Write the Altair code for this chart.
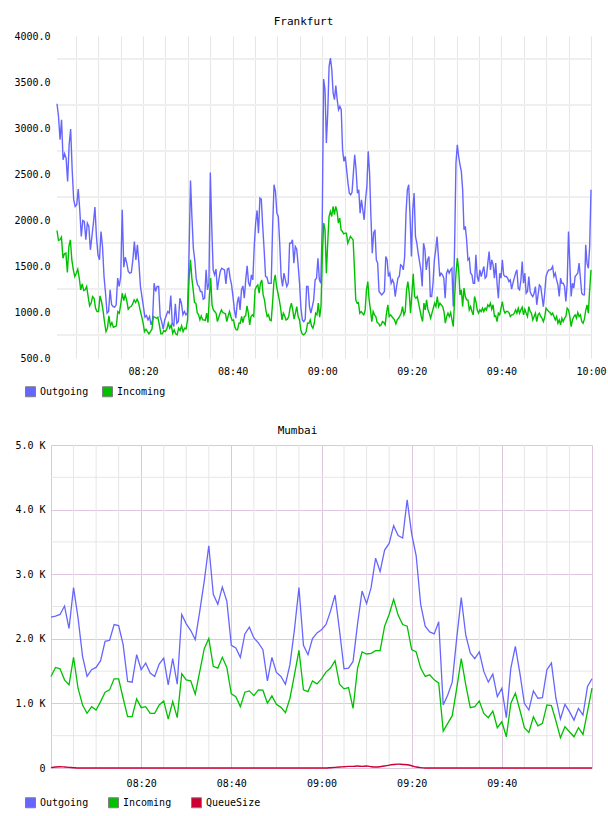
import altair as alt
import pandas as pd

FONT = "DejaVu Sans Mono"
COLORS = {"Outgoing": "#6666ff", "Incoming": "#00c000", "QueueSize": "#cc0033"}
FR_SERIES = ["Outgoing", "Incoming"]
MUM_SERIES = ["Outgoing", "Incoming", "QueueSize"]

# ---------------- Frankfurt (20 s samples, read in four 30-minute segments) ----------------
# segment start times in minutes after 08:00 (last entry = end of data)
FR_SEG_BOUNDS = [0.8, 30.6, 60.63, 90.76, 120.0]

FR_OUT_SEGS = [
    [3264, 3126, 2872, 3090, 2655, 2720, 2673, 2419, 2818, 2988,
     2546, 2220, 2147, 2165, 2336, 2111, 1821, 1995, 1984, 1785,
     1966, 1930, 1676, 1821, 1966, 2140, 1821, 1621, 1567, 1875,
     1712, 1386, 1204, 987, 1005, 1241, 1078, 1059, 1052, 1078,
     1368, 1277, 1386, 2111, 1487, 1596, 1531, 1440, 1422, 1429,
     1567, 1766, 1567, 1730, 1531, 1277, 1168, 1052, 943, 961,
     914, 951, 860, 914, 1313, 1223, 1277, 1277, 951, 896,
     813, 914, 958, 1005, 987, 1179, 878, 842, 1088, 878,
     896, 1150, 1096, 969, 1005, 969, 994, 1603],
    [2430, 2038, 1694, 1567, 1368, 1295, 1277, 1223, 1223, 1139,
     1150, 1458, 1241, 1313, 2517, 1930, 1458, 1404, 1466, 1241,
     1349, 1440, 1476, 1466, 1458, 1306, 1466, 1476, 1368, 1295,
     1168, 1023, 932, 1096, 1168, 1023, 1241, 1284, 1150, 1349,
     1502, 1320, 1277, 1404, 1349, 1712, 1966, 2104, 1857, 2238,
     2227, 1930, 1676, 1386, 1378, 1313, 1313, 1313, 1930, 2383,
     2310, 2075, 2038, 1748, 1386, 1277, 1422, 1349, 1277, 1313,
     1748, 1748, 1785, 1531, 1712, 1683, 1513, 1313, 1041, 914,
     896, 922, 1277, 1277, 1059, 987, 1059, 1132, 1349, 1368,
     1585, 1349, 1313, 1930, 3532],
    [3416, 2836, 3163, 3670, 3761, 3634, 3380, 3308, 3460, 3308,
     3199, 3235, 3199, 2764, 2637, 2691, 2546, 2401, 2292, 2274,
     2300, 2510, 2709, 2546, 2292, 2328, 2075, 2220, 2111, 2002,
     2220, 2365, 2746, 2510, 2038, 1640, 1857, 1893, 1567, 1531,
     1223, 1204, 1186, 1204, 1223, 1603, 1567, 1386, 1422, 1313,
     1349, 1313, 1168, 1277, 1368, 1386, 1513, 1502, 1458, 1603,
     2075, 2328, 2383, 2038, 1603, 2111, 2292, 1821, 1748, 1640,
     1549, 1458, 1277, 1748, 1676, 1458, 1567, 1603, 1168, 1168,
     1313, 1567, 1676, 1821, 1603, 1386, 1422, 1404, 1368, 1150,
     1422, 1458, 1422, 1458, 1476, 1059, 1712, 2619, 2818, 2691],
    [2600, 2528, 2328, 1893, 1930, 1785, 1567, 1585, 1422, 1404,
     1313, 1313, 1621, 1386, 1331, 1458, 1386, 1440, 1495, 1368,
     1386, 1531, 1658, 1458, 1567, 1513, 1368, 1531, 1313, 1150,
     1422, 1368, 1567, 1404, 1386, 1386, 1368, 1331, 1349, 1248,
     1313, 1368, 1422, 1458, 1259, 1241, 1342, 1549, 1313, 1422,
     1204, 1223, 1386, 1223, 1186, 1168, 1204, 1277, 1078, 1186,
     1295, 1277, 1168, 1059, 1204, 1386, 1429, 1458, 1458, 1466,
     1495, 1386, 1422, 1349, 1295, 1168, 1368, 1313, 1313, 1277,
     1114, 1313, 1875, 1531, 1168, 1313, 1259, 1386, 1404, 1422,
     1531, 1368, 1204, 1186, 1186, 1730, 1531, 1476, 1712, 2328],
]

FR_IN_SEGS = [
    [1886, 1777, 1785, 1814, 1585, 1632, 1640, 1429, 1712, 1785,
     1567, 1458, 1386, 1422, 1466, 1368, 1241, 1306, 1233, 1241,
     1277, 1168, 1067, 1096, 1168, 1150, 1041, 1005, 1005, 1175,
     1114, 1023, 896, 787, 824, 958, 849, 885, 835, 842,
     849, 1005, 987, 1088, 1204, 1125, 1186, 1125, 1030, 1052,
     1059, 1088, 1132, 1103, 1139, 1103, 1023, 958, 885, 787,
     813, 787, 762, 787, 813, 951, 943, 932, 943, 860,
     762, 762, 798, 787, 813, 878, 824, 860, 769, 806,
     762, 751, 824, 798, 849, 787, 824, 816, 914, 1349],
    [1567, 1368, 1241, 1103, 1096, 994, 969, 914, 958, 914,
     914, 907, 987, 885, 1168, 1368, 1078, 1023, 1005, 987,
     896, 943, 987, 1023, 994, 987, 980, 896, 958, 1005,
     951, 907, 914, 835, 806, 806, 878, 878, 951, 885,
     951, 958, 1067, 987, 860, 951, 969, 951, 1241, 1277,
     1295, 1204, 1313, 1349, 1186, 1132, 1023, 951, 969, 914,
     907, 1096, 1331, 1404, 1277, 1204, 1132, 1041, 914, 987,
     958, 914, 922, 951, 1041, 1096, 1023, 922, 987, 1059,
     951, 914, 806, 762, 751, 762, 787, 878, 878, 914,
     849, 824, 878, 987, 969, 1096, 943, 1059, 1603, 1966],
    [1893, 1422, 1748, 2038, 2093, 2038, 2147, 2057, 2147, 2093,
     1966, 2020, 1893, 1875, 1850, 1857, 1857, 1748, 1785, 1821,
     1803, 1785, 1476, 1132, 1096, 1103, 987, 1005, 987, 969,
     1016, 1241, 1331, 1132, 1023, 896, 1005, 969, 951, 885,
     878, 849, 860, 896, 885, 860, 987, 1078, 951, 969,
     951, 932, 914, 871, 914, 932, 958, 987, 1059, 969,
     1005, 1241, 1331, 1204, 987, 1204, 1415, 1168, 1150, 1168,
     1096, 1023, 951, 896, 1096, 1023, 1132, 1023, 987, 932,
     987, 1041, 1096, 1059, 1168, 1059, 1096, 1078, 1059, 1005,
     878, 951, 987, 951, 994, 914, 842, 1168, 1422, 1585, 1458],
    [1186, 1241, 1059, 1259, 1168, 1132, 1132, 1023, 1059, 1005,
     969, 1168, 1114, 1023, 987, 1023, 1005, 1041, 1005, 1041,
     1023, 1078, 1059, 1096, 1030, 1078, 951, 958, 896, 987,
     969, 1041, 1114, 1023, 987, 1005, 1005, 994, 951, 969,
     969, 987, 1023, 987, 1041, 987, 1023, 1052, 969, 1030,
     987, 951, 1059, 1005, 987, 914, 951, 987, 896, 969,
     987, 951, 932, 896, 943, 1041, 1023, 1005, 994, 969,
     987, 951, 914, 951, 878, 914, 860, 932, 896, 932,
     951, 1041, 1023, 951, 842, 914, 951, 969, 932, 994,
     951, 969, 896, 878, 922, 1016, 1078, 987, 1241, 1458],
]

FR_Y_LABELS = [500, 1000, 1500, 2000, 2500, 3000, 3500, 4000]
FR_Y_GRID = [750, 1250, 1750, 2250, 2750, 3250, 3750]

# ---------------- Mumbai (1 min samples, 08:00 .. 10:00) ----------------
MUM_OUT = [
    2335, 2350, 2377, 2507, 2159, 2792, 2325, 1728, 1417, 1521,
    1557, 1661, 1962, 1977, 2221, 2206, 1910, 1339, 1329, 1754,
    1521, 1624, 1469, 1417, 1609, 1702, 1287, 1692, 1297, 2377,
    2232, 2128, 1988, 2429, 2896, 3441, 2688, 2533, 2802, 2585,
    1900, 1858, 1713, 2076, 2180, 2014, 1936, 1832, 1349, 1713,
    1479, 1417, 1297, 1599, 2143, 2792, 1900, 1754, 2003, 2092,
    2140, 2221, 2429, 2678, 2128, 1536, 1547, 1650, 2232, 2740,
    2543, 2792, 3249, 3041, 3374, 3477, 3752, 3597, 3560, 4152,
    3623, 3285, 2533, 2195, 2107, 2076, 2263, 976, 1131, 1329,
    2014, 2637, 2055, 1780, 1692, 1796, 1495, 1329, 1453, 1105,
    1235, 779, 1547, 1884, 1469, 1002, 898, 1194, 1080, 1090,
    1521, 1624, 1080, 758, 986, 872, 742, 924, 820, 1261, 1381]

MUM_IN = [
    1417, 1557, 1536, 1365, 1287, 1713, 1235, 976, 846, 950,
    898, 1028, 1173, 1209, 1381, 1381, 1080, 794, 794, 1069,
    934, 950, 846, 846, 976, 1038, 758, 1028, 779, 1458,
    1365, 1349, 1142, 1495, 1848, 2003, 1573, 1547, 1713, 1557,
    1147, 1105, 950, 1173, 1194, 1121, 1209, 1204, 1002, 1116,
    986, 939, 856, 1080, 1443, 1822, 1209, 1183, 1349, 1303,
    1380, 1484, 1547, 1661, 1297, 1225, 1246, 924, 1547, 1796,
    1765, 1775, 1816, 1816, 2195, 2377, 2611, 2367, 2221, 2195,
    1832, 1796, 1547, 1417, 1443, 1365, 1313, 571, 690, 810,
    1235, 1692, 1287, 934, 950, 1038, 846, 779, 882, 623,
    716, 483, 1002, 1157, 898, 623, 550, 794, 654, 690,
    976, 965, 727, 467, 638, 561, 483, 623, 519, 872, 1235]

MUM_QUEUE = [
    5, 15, 20, 15, 10, 5, 0, 0, 0, 0,
    0, 0, 0, 0, 0, 0, 0, 0, 0, 0,
    0, 0, 0, 0, 0, 0, 0, 0, 0, 0,
    0, 0, 0, 0, 0, 0, 0, 0, 0, 0,
    0, 0, 0, 0, 0, 0, 0, 0, 0, 0,
    0, 0, 0, 0, 0, 0, 0, 0, 0, 0,
    0, 0, 5, 10, 15, 20, 25, 25, 30, 25,
    30, 20, 15, 20, 30, 45, 55, 60, 55, 50,
    35, 15, 5, 0, 0, 0, 0, 0, 0, 0,
    0, 0, 0, 0, 0, 0, 0, 0, 0, 0,
    0, 0, 0, 0, 0, 0, 0, 0, 0, 0,
    0, 0, 0, 0, 0, 0, 0, 0, 0, 0, 0]

MUM_Y_TICKS = [0, 1000, 2000, 3000, 4000, 5000]
MUM_Y_MINOR = [500, 1500, 2500, 3500, 4500]

BASE = pd.Timestamp("2024-01-01 08:00:00")
FR_START = BASE + pd.Timedelta(seconds=48)
FR_END = BASE + pd.Timedelta(minutes=120)


def seg_times(segs, bounds):
    out = []
    n_seg = len(segs)
    for i, seg in enumerate(segs):
        s, e = bounds[i], bounds[i + 1]
        n = len(seg)
        step = (e - s) / ((n - 1) if i == n_seg - 1 else n)
        out.extend(s + k * step for k in range(n))
    return out


def dt(h, m, s=0):
    return alt.DateTime(year=2024, month=1, date=1, hours=h, minutes=m, seconds=s)


rows = []
for name, segs in (("Outgoing", FR_OUT_SEGS), ("Incoming", FR_IN_SEGS)):
    vals = [v for seg in segs for v in seg]
    for t, v in zip(seg_times(segs, FR_SEG_BOUNDS), vals):
        rows.append({"t": BASE + pd.Timedelta(minutes=t), "value": v,
                     "series": name, "col": COLORS[name]})
fr_df = pd.DataFrame(rows)

mrows = []
for name, vals in (("Outgoing", MUM_OUT), ("Incoming", MUM_IN), ("QueueSize", MUM_QUEUE)):
    for m, v in enumerate(vals):
        mrows.append({"t": BASE + pd.Timedelta(minutes=m), "value": v,
                      "series": name, "col": COLORS[name]})
mum_df = pd.DataFrame(mrows)


def legend_layer(series, x, y, colpad):
    """Invisible square marks that only supply the filled-swatch legend."""
    return alt.Chart(pd.DataFrame({"series": series})).mark_square(
        opacity=0, size=1).encode(
        fill=alt.Fill("series:N",
                      scale=alt.Scale(domain=series, range=[COLORS[s] for s in series]),
                      legend=alt.Legend(
                          orient="none", legendX=x, legendY=y, direction="horizontal",
                          title=None, symbolType="square", symbolSize=100,
                          symbolOpacity=1, symbolStrokeColor="#7f7f7f", symbolStrokeWidth=1,
                          labelFont=FONT, labelFontSize=10, labelColor="#000000",
                          labelOffset=4, columnPadding=colpad, padding=0)))


# ---------------- Frankfurt chart ----------------
fr_x_vals = [dt(8 + (5 * k) // 60, (5 * k) % 60) for k in range(1, 25)]
fr_x_scale = alt.Scale(domain=[dt(8, 0, 48), dt(10, 0, 0)], nice=False, range=[6, 540])
fr_x_axis = alt.Axis(values=fr_x_vals, grid=True, gridColor="#e6e6e6", gridWidth=1,
                     ticks=False, domain=False, labelFont=FONT, labelFontSize=10,
                     labelColor="#000000", labelPadding=8, labelFlush=False, title=None,
                     labelExpr="minutes(datum.value) % 20 == 0 ? timeFormat(datum.value, '%H:%M') : ''")
fr_y_axis = alt.Axis(values=FR_Y_LABELS, grid=False, ticks=False, domain=False, format=".1f",
                     labelFont=FONT, labelFontSize=10, labelColor="#000000", labelPadding=1,
                     minExtent=46, maxExtent=46, title=None)
fr_y_scale = alt.Scale(domain=[500, 4000], nice=False, zero=False)

fr_grid_df = pd.DataFrame({"value": FR_Y_GRID, "t0": FR_START, "t1": FR_END})
fr_grid = alt.Chart(fr_grid_df).mark_rule(color="#efefef", strokeWidth=2).encode(
    x=alt.X("t0:T", scale=fr_x_scale, axis=fr_x_axis, title=None),
    x2="t1:T",
    y=alt.Y("value:Q", scale=fr_y_scale, axis=fr_y_axis, title=None))

fr_lines = alt.Chart(fr_df).mark_line(strokeWidth=1.4).encode(
    x=alt.X("t:T", scale=fr_x_scale, axis=fr_x_axis, title=None),
    y=alt.Y("value:Q", scale=fr_y_scale, axis=fr_y_axis, title=None),
    color=alt.Color("col:N", scale=None),
    detail="series:N")

frankfurt = alt.layer(fr_grid, fr_lines, legend_layer(FR_SERIES, -26, 350, 11)).properties(
    width=541, height=322,
    title=alt.TitleParams("Frankfurt", font=FONT, fontSize=11, fontWeight="normal",
                          color="#000000", anchor="middle", offset=4, dx=-18))

# ---------------- Mumbai chart ----------------
mum_major_x = [dt(8 + (20 * k) // 60, (20 * k) % 60) for k in range(0, 7)]
mum_minor_x = pd.DataFrame({"t": [BASE + pd.Timedelta(minutes=m) for m in range(5, 120, 5) if m % 20 != 0]})
mum_x = alt.X("t:T", title=None,
              scale=alt.Scale(domain=[dt(8, 0), dt(10, 0)], nice=False),
              axis=alt.Axis(values=mum_major_x, grid=True, gridColor="#dfc6df", gridWidth=1,
                            ticks=False, domain=False, labelFont=FONT, labelFontSize=10,
                            labelColor="#000000", labelPadding=10, labelFlush=False,
                            labelExpr="(hours(datum.value) == 8 && minutes(datum.value) == 0) || hours(datum.value) == 10 ? '' : timeFormat(datum.value, '%H:%M')"))
mum_y_scale = alt.Scale(domain=[0, 5000], nice=False)
mum_y_axis = alt.Axis(values=MUM_Y_TICKS, grid=True, gridColor="#dfc6df", gridWidth=1,
                      ticks=False, domain=False, labelFont=FONT, labelFontSize=10,
                      labelColor="#000000", labelPadding=6, minExtent=46, maxExtent=46,
                      title=None,
                      labelExpr="datum.value == 0 ? '0' : format(datum.value / 1000, '.1f') + ' K'")

mum_vgrid = alt.Chart(mum_minor_x).mark_rule(color="#e6e6e6", strokeWidth=1).encode(x=mum_x)
mum_hgrid = alt.Chart(pd.DataFrame({"value": MUM_Y_MINOR})).mark_rule(
    color="#e6e6e6", strokeWidth=1).encode(
    y=alt.Y("value:Q", scale=mum_y_scale, axis=mum_y_axis, title=None))

mum_lines = alt.Chart(mum_df).transform_filter(
    alt.datum.series != "QueueSize").mark_line(strokeWidth=1.3).encode(
    x=mum_x,
    y=alt.Y("value:Q", scale=mum_y_scale, axis=mum_y_axis, title=None),
    color=alt.Color("col:N", scale=None),
    detail="series:N")

mum_queue = alt.Chart(mum_df).transform_filter(
    alt.datum.series == "QueueSize").mark_line(strokeWidth=1.4, interpolate="monotone").encode(
    x=mum_x,
    y=alt.Y("value:Q", scale=mum_y_scale, axis=mum_y_axis, title=None),
    color=alt.Color("col:N", scale=None))

mumbai = alt.layer(mum_vgrid, mum_hgrid, mum_lines, mum_queue,
                   legend_layer(MUM_SERIES, -26, 352, 17)).properties(
    width=541, height=323,
    title=alt.TitleParams("Mumbai", font=FONT, fontSize=11, fontWeight="normal",
                          color="#000000", anchor="middle", offset=4, dx=-24))

chart = alt.vconcat(frankfurt, mumbai, spacing=26).resolve_scale(
    x="independent", y="independent", fill="independent"
).resolve_legend(fill="independent").properties(
    padding={"left": 5, "top": 16, "right": 0, "bottom": 0},
    background="#ffffff"
).configure_view(stroke=None)

chart.save("out.html", embed_options={"renderer": "svg", "actions": False})
